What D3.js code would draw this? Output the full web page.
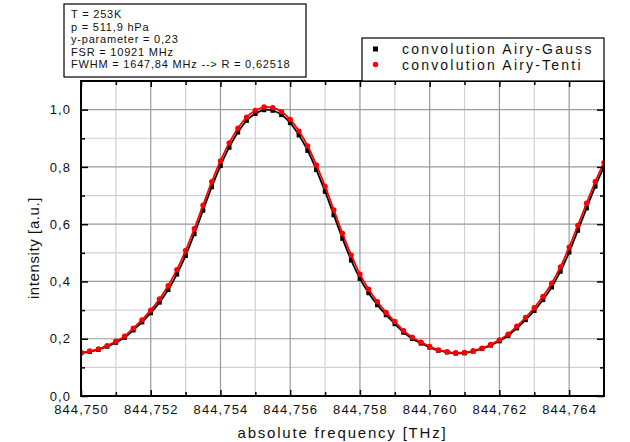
<!DOCTYPE html>
<html>
<head>
<meta charset="utf-8">
<script src="https://cdn.jsdelivr.net/npm/d3@7"></script>
<style>
  html, body { margin: 0; padding: 0; background: #fff; }
  svg { display: block; font-family: "Liberation Sans", Arial, sans-serif; }
</style>
</head>
<body>
<script>
// Data
const frequency = [
  844.75000, 844.75025, 844.75050, 844.75075, 844.75100, 844.75125, 844.75150, 844.75175,
  844.75200, 844.75225, 844.75250, 844.75275, 844.75300, 844.75325, 844.75350, 844.75375,
  844.75400, 844.75425, 844.75450, 844.75475, 844.75500, 844.75525, 844.75550, 844.75575,
  844.75600, 844.75625, 844.75650, 844.75675, 844.75700, 844.75725, 844.75750, 844.75775,
  844.75800, 844.75825, 844.75850, 844.75875, 844.75900, 844.75925, 844.75950, 844.75975,
  844.76000, 844.76025, 844.76050, 844.76075, 844.76100, 844.76125, 844.76150, 844.76175,
  844.76200, 844.76225, 844.76250, 844.76275, 844.76300, 844.76325, 844.76350, 844.76375,
  844.76400, 844.76425, 844.76450, 844.76475, 844.76500
];
const airyGauss = [
  0.150, 0.155, 0.162, 0.173, 0.187, 0.204, 0.230, 0.258,
  0.290, 0.327, 0.371, 0.425, 0.490, 0.566, 0.648, 0.730,
  0.804, 0.868, 0.921, 0.962, 0.986, 0.999, 0.997, 0.982,
  0.954, 0.911, 0.857, 0.790, 0.714, 0.632, 0.550, 0.474,
  0.410, 0.360, 0.318, 0.283, 0.252, 0.222, 0.200, 0.184,
  0.170, 0.159, 0.153, 0.149, 0.150, 0.156, 0.165, 0.177,
  0.192, 0.211, 0.237, 0.266, 0.298, 0.336, 0.380, 0.435,
  0.502, 0.578, 0.656, 0.732, 0.800
];
const airyTenti = [
  0.152, 0.157, 0.164, 0.176, 0.191, 0.209, 0.237, 0.266,
  0.300, 0.339, 0.385, 0.441, 0.508, 0.584, 0.666, 0.748,
  0.821, 0.884, 0.935, 0.974, 0.997, 1.009, 1.007, 0.993,
  0.966, 0.925, 0.873, 0.807, 0.732, 0.650, 0.568, 0.492,
  0.425, 0.373, 0.329, 0.292, 0.260, 0.228, 0.205, 0.188,
  0.173, 0.161, 0.155, 0.151, 0.152, 0.158, 0.167, 0.180,
  0.196, 0.216, 0.244, 0.274, 0.308, 0.348, 0.394, 0.451,
  0.520, 0.596, 0.673, 0.749, 0.815
];
const seriesNames = ["convolution Airy-Gauss", "convolution Airy-Tenti"];
const xMajorTicks = [844.750, 844.752, 844.754, 844.756, 844.758, 844.760, 844.762, 844.764];
const xMinorTicks = [844.751, 844.753, 844.755, 844.757, 844.759, 844.761, 844.763];
const yMajorTicks = [0.0, 0.2, 0.4, 0.6, 0.8, 1.0];
const yMinorTicks = [0.1, 0.3, 0.5, 0.7, 0.9];
const infoLines = [
  "T = 253K",
  "p = 511,9 hPa",
  "y-parameter = 0,23",
  "FSR = 10921 MHz",
  "FWHM = 1647,84 MHz --> R = 0,62518"
];

// Layout
const SVG_WIDTH = 630;
const SVG_HEIGHT = 442;
const MARGIN = { top: 81, right: 26, bottom: 46, left: 81 };
const W = SVG_WIDTH - MARGIN.left - MARGIN.right;
const H = SVG_HEIGHT - MARGIN.top - MARGIN.bottom;

const locale = d3.formatLocale({ decimal: ",", thousands: ".", grouping: [3], currency: ["", ""] });
const fx = locale.format(".3f");
const fy = locale.format(".1f");

const svg = d3.select("body").append("svg")
  .attr("width", SVG_WIDTH)
  .attr("height", SVG_HEIGHT);

const g = svg.append("g")
  .attr("transform", `translate(${MARGIN.left},${MARGIN.top})`);

const x = d3.scaleLinear().domain([844.750, 844.765]).range([0, W]);
const y = d3.scaleLinear().domain([0, 1.1]).range([H, 0]);

// Grid
const grid = g.append("g");
grid.selectAll(".vminor").data(xMinorTicks).join("line")
  .attr("x1", d => x(d)).attr("x2", d => x(d)).attr("y1", 0).attr("y2", H)
  .attr("stroke", "#d2d2d2").attr("stroke-width", 1.2);
grid.selectAll(".hminor").data(yMinorTicks).join("line")
  .attr("x1", 0).attr("x2", W).attr("y1", d => y(d)).attr("y2", d => y(d))
  .attr("stroke", "#d2d2d2").attr("stroke-width", 1.2);
grid.selectAll(".vmajor").data(xMajorTicks).join("line")
  .attr("x1", d => x(d)).attr("x2", d => x(d)).attr("y1", 0).attr("y2", H)
  .attr("stroke", "#9a9a9a").attr("stroke-width", 1.2);
grid.selectAll(".hmajor").data(yMajorTicks).join("line")
  .attr("x1", 0).attr("x2", W).attr("y1", d => y(d)).attr("y2", d => y(d))
  .attr("stroke", "#9a9a9a").attr("stroke-width", 1.2);

// Curves
svg.append("clipPath").attr("id", "clip")
  .append("rect").attr("width", W).attr("height", H);
const plot = g.append("g").attr("clip-path", "url(#clip)");

const line = (vals) => d3.line()
  .x((d, i) => x(frequency[i]))
  .y(d => y(d))
  .curve(d3.curveCatmullRom)(vals);

plot.append("path").attr("d", line(airyGauss))
  .attr("fill", "none").attr("stroke", "#000").attr("stroke-width", 1.8);
plot.selectAll(".sq").data(airyGauss).join("rect")
  .attr("x", (d, i) => x(frequency[i]) - 2.3)
  .attr("y", d => y(d) - 2.3)
  .attr("width", 4.6).attr("height", 4.6)
  .attr("fill", "#000");

plot.append("path").attr("d", line(airyTenti))
  .attr("fill", "none").attr("stroke", "#ff0000").attr("stroke-width", 1.8);
plot.selectAll(".dot").data(airyTenti).join("circle")
  .attr("cx", (d, i) => x(frequency[i]))
  .attr("cy", d => y(d))
  .attr("r", 2.7)
  .attr("fill", "#ff0000");

// Frame
g.append("rect").attr("width", W).attr("height", H)
  .attr("fill", "none").attr("stroke", "#000").attr("stroke-width", 2);

// Axes with inward ticks
function styleAxis(sel) {
  sel.select(".domain").remove();
  sel.selectAll(".tick line").attr("stroke", "#000").attr("stroke-width", 1.5);
  sel.selectAll("text")
    .attr("fill", "#111")
    .style("font-size", "13px")
    .style("letter-spacing", "1.1px");
}

g.append("g").attr("transform", `translate(0,${H})`)
  .call(d3.axisBottom(x).tickValues(xMajorTicks).tickSizeInner(-6).tickSizeOuter(0)
    .tickPadding(9).tickFormat(fx))
  .call(styleAxis);
g.append("g").attr("transform", `translate(0,${H})`)
  .call(d3.axisBottom(x).tickValues(xMinorTicks).tickSize(-4).tickFormat(""))
  .call(styleAxis);
g.append("g")
  .call(d3.axisTop(x).tickValues(xMajorTicks).tickSize(-6).tickFormat(""))
  .call(styleAxis);
g.append("g")
  .call(d3.axisTop(x).tickValues(xMinorTicks).tickSize(-4).tickFormat(""))
  .call(styleAxis);

g.append("g")
  .call(d3.axisLeft(y).tickValues(yMajorTicks).tickSizeInner(-7).tickSizeOuter(0)
    .tickPadding(10).tickFormat(fy))
  .call(styleAxis);
g.append("g")
  .call(d3.axisLeft(y).tickValues(yMinorTicks).tickSize(-4).tickFormat(""))
  .call(styleAxis);
g.append("g").attr("transform", `translate(${W},0)`)
  .call(d3.axisRight(y).tickValues(yMajorTicks).tickSize(-7).tickFormat(""))
  .call(styleAxis);
g.append("g").attr("transform", `translate(${W},0)`)
  .call(d3.axisRight(y).tickValues(yMinorTicks).tickSize(-4).tickFormat(""))
  .call(styleAxis);

// Axis titles
svg.append("text")
  .attr("x", MARGIN.left + W / 2)
  .attr("y", 438)
  .attr("text-anchor", "middle")
  .attr("fill", "#111")
  .style("font-size", "15px")
  .style("letter-spacing", "1.8px")
  .text("absolute frequency [THz]");

svg.append("text")
  .attr("transform", `translate(39,248) rotate(-90)`)
  .attr("text-anchor", "middle")
  .attr("fill", "#111")
  .style("font-size", "15px")
  .style("letter-spacing", "0.6px")
  .text("intensity [a.u.]");

// Info box
const info = svg.append("g");
info.append("rect")
  .attr("x", 64).attr("y", 4).attr("width", 242).attr("height", 73)
  .attr("fill", "#fff").attr("stroke", "#000").attr("stroke-width", 1.2);
info.selectAll("text").data(infoLines).join("text")
  .attr("x", 71)
  .attr("y", (d, i) => 18 + i * 12.5)
  .attr("fill", "#111")
  .style("font-size", "11px")
  .style("letter-spacing", "0.8px")
  .text(d => d);

// Legend
const legend = svg.append("g");
legend.append("rect")
  .attr("x", 362).attr("y", 38).attr("width", 242).attr("height", 43)
  .attr("fill", "#fff").attr("stroke", "#000").attr("stroke-width", 1.2);
legend.append("rect")
  .attr("x", 373).attr("y", 46.5).attr("width", 5).attr("height", 5).attr("fill", "#000");
legend.append("circle")
  .attr("cx", 375.5).attr("cy", 64.5).attr("r", 2.7).attr("fill", "#ff0000");
legend.selectAll(".lt").data(seriesNames).join("text")
  .attr("x", 402)
  .attr("y", (d, i) => 54 + i * 15.5)
  .attr("fill", "#111")
  .style("font-size", "14px")
  .style("letter-spacing", "2.2px")
  .text(d => d);
</script>
</body>
</html>
